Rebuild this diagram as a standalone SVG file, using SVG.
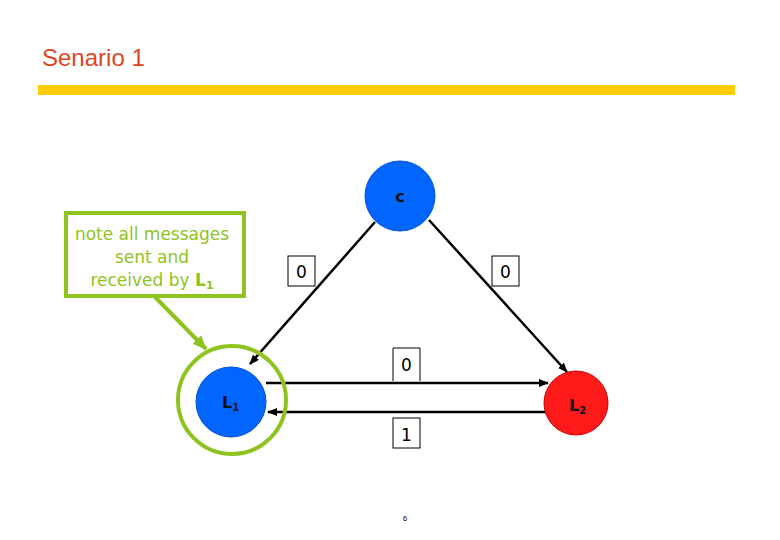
<svg xmlns="http://www.w3.org/2000/svg" width="780" height="540" viewBox="0 0 780 540">
<defs>
<marker id="ah" markerWidth="10" markerHeight="8" refX="9" refY="4" orient="auto" markerUnits="userSpaceOnUse"><path d="M0,0 L10,4 L0,8 z" fill="#000"/></marker>
<marker id="gh" markerWidth="14" markerHeight="12" refX="13" refY="6" orient="auto" markerUnits="userSpaceOnUse"><path d="M0,0 L14,6 L0,12 z" fill="#8fc31f"/></marker>
</defs>
<style>
.v{font-family:"DejaVu Sans",Verdana,sans-serif}
.lb{fill:#fff;stroke:#000;stroke-width:1}
.lt{font-family:"DejaVu Sans",sans-serif;font-size:17px;text-anchor:middle}
.cn{stroke:#000;stroke-width:2.5;fill:none;marker-end:url(#ah)}
</style>
<rect width="780" height="540" fill="#fff"/>
<text x="42" y="66" font-family="Liberation Sans,Arial,sans-serif" font-size="24" fill="#e0441c">Senario 1</text>
<rect x="38" y="85" width="697" height="10" fill="#ffcc00"/>
<g id="connectors">
<line class="cn" x1="375" y1="222" x2="250" y2="364"/>
<line class="cn" x1="429" y1="220" x2="567" y2="372"/>
<line class="cn" x1="266" y1="383" x2="548" y2="383"/>
<line class="cn" x1="546" y1="412" x2="268" y2="412"/>
<line x1="155" y1="297" x2="206" y2="349" stroke="#8fc31f" stroke-width="4" marker-end="url(#gh)"/>
</g>
<g id="labels">
<rect class="lb" x="288" y="256" width="27" height="30"/><text class="lt" x="301.5" y="278">0</text>
<rect class="lb" x="492" y="256" width="27" height="30"/><text class="lt" x="505.5" y="278">0</text>
<path d="M393,381 V348 H420 V381" fill="#fff" stroke="#000"/><text class="lt" x="406.5" y="371">0</text>
<rect class="lb" x="393" y="418" width="27" height="30"/><text class="lt" x="406.5" y="441">1</text>
</g>
<g id="C"><circle cx="400" cy="196" r="35" fill="#0066ff" stroke="#0050cc"/><text class="v" x="400" y="202" font-size="16" font-weight="bold" text-anchor="middle" fill="#111">c</text></g>
<g id="L1"><circle cx="232" cy="400" r="54" fill="none" stroke="#8fc31f" stroke-width="4"/><circle cx="231" cy="402" r="35" fill="#0066ff" stroke="#0050cc"/><text class="v" x="222" y="408" font-size="16" font-weight="bold" fill="#111">L<tspan font-size="10" dy="3">1</tspan></text></g>
<g id="L2"><circle cx="576" cy="403" r="32" fill="#ff1a1a" stroke="#cc0000"/><text class="v" x="569" y="411" font-size="16" font-weight="bold" fill="#111">L<tspan font-size="10" dy="3">2</tspan></text></g>
<g id="note"><rect x="66" y="213" width="178" height="83" fill="#fff" stroke="#8fc31f" stroke-width="4"/>
<text class="v" font-size="17" fill="#8fc31f" text-anchor="middle"><tspan x="152" y="240">note all messages</tspan><tspan x="152" y="263">sent and</tspan><tspan x="152" y="286">received by <tspan font-weight="bold">L</tspan><tspan font-weight="bold" font-size="11" dy="3">1</tspan></tspan></text></g>
<text x="405" y="521" font-family="Liberation Sans,Arial,sans-serif" font-size="8" text-anchor="middle">6</text>
</svg>
